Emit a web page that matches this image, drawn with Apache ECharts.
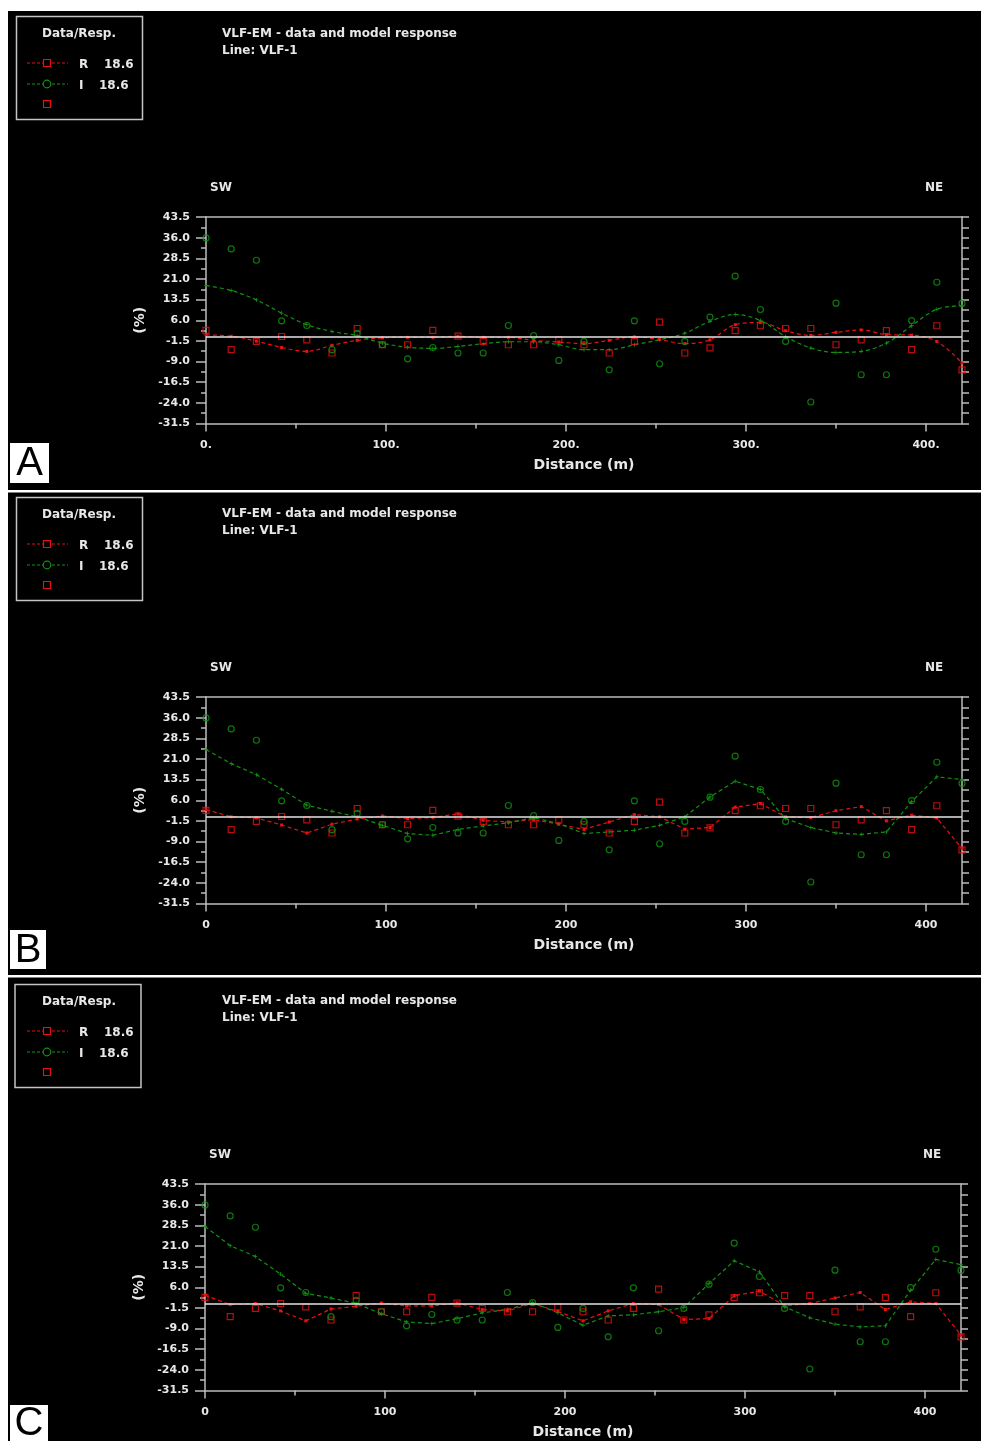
<!DOCTYPE html>
<html>
<head>
<meta charset="utf-8">
<script src="https://cdn.jsdelivr.net/npm/echarts@6/dist/echarts.min.js"></script>
<style>
html,body{margin:0;padding:0;background:#fff;}
#chart{width:981px;height:1441px;}
</style>
</head>
<body>
<div id="chart"></div>
<script>
// ---- data ----
const distance = [0,14,28,42,56,70,84,98,112,126,140,154,168,182,196,210,224,238,252,266,280,294,308,322,336,350,364,378,392,406,420];
// field data (same in all panels)
const rData = [2.3,-4.7,-1.7,0.1,-1.1,-5.9,3.0,-2.9,-2.9,2.3,0.2,-1.7,-2.9,-2.9,-1.1,-2.9,-5.9,-1.7,5.3,-5.9,-4.0,2.2,4.0,3.0,3.0,-2.9,-1.1,2.2,-4.7,4.0,-12.0];
const iData = [35.9,31.9,27.8,5.8,4.1,-4.7,1.2,-2.9,-8.0,-3.9,-5.9,-5.9,4.1,0.4,-8.6,-1.7,-12.0,5.8,-9.8,-1.7,7.1,22.0,9.9,-1.7,-23.7,12.2,-13.8,-13.8,5.9,19.8,12.1];
// model responses
const rModelA = [0.7,0.2,-1.6,-3.9,-5.3,-3.1,-1.3,-0.4,-0.2,-0.2,0.2,-0.2,-0.2,-1.3,-1.9,-2.5,-1.3,0,-1.0,-2.5,-1.1,4.4,5.2,2.2,0.5,1.6,2.5,0.8,0.6,-1.7,-9.5];
const iModelA = [18.6,16.8,13.4,8.6,4.4,1.9,0.4,-2.3,-3.8,-4.2,-3.5,-2.5,-1.8,-1.8,-2.9,-4.7,-4.7,-2.9,-1.1,1.3,5.6,8.1,5.9,0.1,-4.1,-5.7,-5.3,-2.3,4.0,10.0,11.3];
const rModelB = [2.6,0,-0.4,-3.0,-5.9,-2.7,-0.8,0.3,-0.7,-0.2,1.0,-1.3,-1.9,-1.0,-2.7,-4.6,-1.9,0.8,0,-4.5,-3.9,3.5,4.8,0,-0.3,2.2,3.7,-1.5,0.6,-0.5,-11.5];
const iModelB = [24.4,19.3,15.3,10.0,4.2,2.0,0,-3.1,-6.1,-6.7,-4.6,-3.3,-2.2,-0.3,-2.5,-6.1,-5.5,-4.9,-3.1,0,7.2,12.9,9.9,-0.7,-3.9,-5.9,-6.4,-5.5,5.5,14.5,13.5];
const rModelC = [3.1,-0.3,0.1,-2.6,-6.2,-1.9,-0.9,0.3,-0.8,-0.8,0.3,-2.1,-2.6,0.1,-2.8,-6.2,-2.6,0.1,-0.3,-5.7,-5.4,2.9,4.6,-0.7,0.1,2.1,4.1,-2.1,0.7,0.1,-11.4];
const iModelC = [28.1,21.1,17.2,10.8,3.8,2.1,0.1,-3.6,-6.6,-7.2,-5.4,-3.3,-2.1,0.4,-3.3,-7.8,-4.4,-4.0,-2.9,-1.4,7.3,15.6,11.6,-1.1,-5.1,-7.4,-8.4,-8.0,4.9,16.1,14.2];
// ticks
const yTickLabels = [-31.5,-24.0,-16.5,-9.0,-1.5,6.0,13.5,21.0,28.5,36.0,43.5];
const yMinorTicks = [-27.75,-20.25,-12.75,-5.25,2.25,9.75,17.25,24.75,32.25,39.75];
const xTickLabels = [0,100,200,300,400];
const xMinorTicks = [50,150,250,350];
const panelLetters = ['A','B','C'];
const legendLabels = ['R','I'];
const legendFreq = ['18.6','18.6'];
const titleLines = ['VLF-EM - data and model response','Line: VLF-1'];

// ---- styling / layout ----
const RED = '#e81010', GREEN = '#129212', FRAME = '#bcbcbc', TXT = '#e8e8e8';
const FONT = 'DejaVu Sans';
const gridTops = [217, 697, 1184];
const gridLefts = [206, 206, 205];
const textOff = [0, 480, 967];
const legendOff = [0, 481, 968];
const letterBoxes = [{x:10,y:443,w:39,h:40},{x:10,y:930,w:36,h:39},{x:10,y:1405,w:38,h:36}];
const rModels = [rModelA, rModelB, rModelC];
const iModels = [iModelA, iModelB, iModelC];
const pair = a => distance.map((d,i)=>[d,a[i]]);
const allY = yTickLabels.concat(yMinorTicks);

const grids=[], xAxes=[], yAxes=[], series=[], graphics=[];
// background strips (white page edges and separators)
graphics.push({type:'rect',shape:{x:0,y:0,width:981,height:11},style:{fill:'#fff'}});
graphics.push({type:'rect',shape:{x:0,y:0,width:8,height:1441},style:{fill:'#fff'}});
graphics.push({type:'rect',shape:{x:8,y:490,width:973,height:2.5},style:{fill:'#fff'}});
graphics.push({type:'rect',shape:{x:8,y:975,width:973,height:2.5},style:{fill:'#fff'}});

for (let p=0;p<3;p++){
  grids.push({left:gridLefts[p], top:gridTops[p], width:756, height:206.5});
  const lab = {color:TXT, fontFamily:FONT, fontWeight:'bold', fontSize:11};
  const line = show => ({show:show,onZero:false,lineStyle:{color:FRAME,width:1.5}});
  xAxes.push({gridIndex:p,type:'value',min:0,max:420,position:'bottom',
    axisLine:line(true),
    axisTick:{show:true,customValues:xTickLabels,length:8,lineStyle:{color:FRAME,width:1.5}},
    axisLabel:{show:true,customValues:xTickLabels,margin:16,...lab,
      formatter: v => p===0 ? v+'.' : String(v)},
    splitLine:{show:false},
    name:'Distance (m)',nameLocation:'middle',nameGap:35,
    nameTextStyle:{color:TXT,fontFamily:FONT,fontWeight:'bold',fontSize:14}});
  xAxes.push({gridIndex:p,type:'value',min:0,max:420,position:'bottom',
    axisLine:line(false),
    axisTick:{show:true,customValues:xMinorTicks,length:5,lineStyle:{color:FRAME,width:1.5}},
    axisLabel:{show:false},splitLine:{show:false}});
  xAxes.push({gridIndex:p,type:'value',min:0,max:420,position:'top',
    axisLine:line(true),
    axisTick:{show:false},axisLabel:{show:false},splitLine:{show:false}});
  yAxes.push({gridIndex:p,type:'value',min:-31.5,max:43.5,position:'left',
    axisLine:line(true),
    axisTick:{show:true,customValues:yTickLabels,length:10,lineStyle:{color:FRAME,width:1.5}},
    axisLabel:{show:true,customValues:yTickLabels,margin:16,...lab,formatter:v=>v.toFixed(1)},
    splitLine:{show:false},
    name:'(%)',nameLocation:'middle',nameRotate:90,nameGap:58,
    nameTextStyle:{color:TXT,fontFamily:FONT,fontWeight:'bold',fontSize:14}});
  yAxes.push({gridIndex:p,type:'value',min:-31.5,max:43.5,position:'left',
    axisLine:line(false),
    axisTick:{show:true,customValues:yMinorTicks,length:5,lineStyle:{color:FRAME,width:1.5}},
    axisLabel:{show:false},splitLine:{show:false}});
  yAxes.push({gridIndex:p,type:'value',min:-31.5,max:43.5,position:'right',
    axisLine:line(true),
    axisTick:{show:true,customValues:allY,length:7,lineStyle:{color:FRAME,width:1.5}},
    axisLabel:{show:false},splitLine:{show:false}});

  const xi = p*3, yi = p*3;
  series.push({type:'line',name:'R model',xAxisIndex:xi,yAxisIndex:yi,data:pair(rModels[p]),
    smooth: p===0 ? 0.35 : false,
    symbol:'rect',symbolSize:3,showSymbol:true,
    itemStyle:{color:RED},lineStyle:{color:RED,width:1.2,type:[4,3]},z:3,
    markLine:{silent:true,symbol:'none',label:{show:false},
      lineStyle:{color:'#e4e4e4',width:1.6,type:'solid'},data:[{yAxis:0}]}});
  series.push({type:'line',name:'I model',xAxisIndex:xi,yAxisIndex:yi,data:pair(iModels[p]),
    smooth: p===0 ? 0.35 : false,
    symbol:'path://M4,0h2v4h4v2h-4v4h-2v-4h-4v-2h4z',symbolSize:4,showSymbol:true,
    itemStyle:{color:GREEN},lineStyle:{color:GREEN,width:1.2,type:[4,3]},z:3});
  series.push({type:'scatter',name:'R data',xAxisIndex:xi,yAxisIndex:yi,data:pair(rData),
    symbol:'rect',symbolSize:6,
    itemStyle:{color:'rgba(0,0,0,0)',borderColor:RED,borderWidth:1.2},z:4});
  series.push({type:'scatter',name:'I data',xAxisIndex:xi,yAxisIndex:yi,data:pair(iData),
    symbol:'circle',symbolSize:6,
    itemStyle:{color:'rgba(0,0,0,0)',borderColor:GREEN,borderWidth:1.2},z:4});

  // legend box
  const lo = legendOff[p], to = textOff[p] + 1.5;
  const lx = p===2 ? 15 : 16.5;
  graphics.push({type:'rect',shape:{x:lx,y:16.5+lo,width:126,height:103},
    style:{fill:null,stroke:'#c4c4c4',lineWidth:1.5}});
  const tstyle = (x,y,txt,size,align)=>({type:'text',x:x,y:y,
    style:{text:txt,fill:TXT,font:'bold '+size+'px "'+FONT+'"',textAlign:align||'left',textVerticalAlign:'middle'}});
  graphics.push(tstyle(79,33.5+lo,'Data/Resp.',12,'center'));
  // row R
  graphics.push({type:'line',shape:{x1:27,y1:63+lo,x2:68,y2:63+lo},style:{stroke:RED,lineWidth:1,lineDash:[3,2]}});
  graphics.push({type:'rect',shape:{x:43.5,y:59.5+lo,width:7,height:7},style:{fill:'#000',stroke:RED,lineWidth:1.2}});
  graphics.push(tstyle(79,64.5+lo,legendLabels[0],12));
  graphics.push(tstyle(104,64.5+lo,legendFreq[0],12));
  // row I
  graphics.push({type:'line',shape:{x1:27,y1:84+lo,x2:68,y2:84+lo},style:{stroke:GREEN,lineWidth:1,lineDash:[3,2]}});
  graphics.push({type:'circle',shape:{cx:47,cy:84+lo,r:3.8},style:{fill:'#000',stroke:GREEN,lineWidth:1.2}});
  graphics.push(tstyle(79,85.5+lo,legendLabels[1],12));
  graphics.push(tstyle(99,85.5+lo,legendFreq[1],12));
  // row 3
  graphics.push({type:'rect',shape:{x:43.5,y:100.5+lo,width:7,height:7},style:{fill:'#000',stroke:RED,lineWidth:1.2}});
  // titles
  graphics.push(tstyle(222,32+to,titleLines[0],12));
  graphics.push(tstyle(222,49+to,titleLines[1],12));
  graphics.push(tstyle(p===2?209:210,186+to,'SW',12));
  graphics.push(tstyle(p===2?923:925,186+to,'NE',12));
  // letter box
  const b = letterBoxes[p];
  graphics.push({type:'rect',shape:{x:b.x,y:b.y,width:b.w,height:b.h},style:{fill:'#fff'}});
  graphics.push({type:'text',x:b.x+b.w/2,y:b.y+b.h/2+1,
    style:{text:panelLetters[p],fill:'#000',font:'40px "Liberation Sans"',textAlign:'center',textVerticalAlign:'middle'}});
}

const chart = echarts.init(document.getElementById('chart'),null,{renderer:'canvas'});
chart.setOption({
  backgroundColor:'#000',
  animation:false,
  grid:grids, xAxis:xAxes, yAxis:yAxes, series:series,
  graphic:{elements:graphics}
});
</script>
</body>
</html>
